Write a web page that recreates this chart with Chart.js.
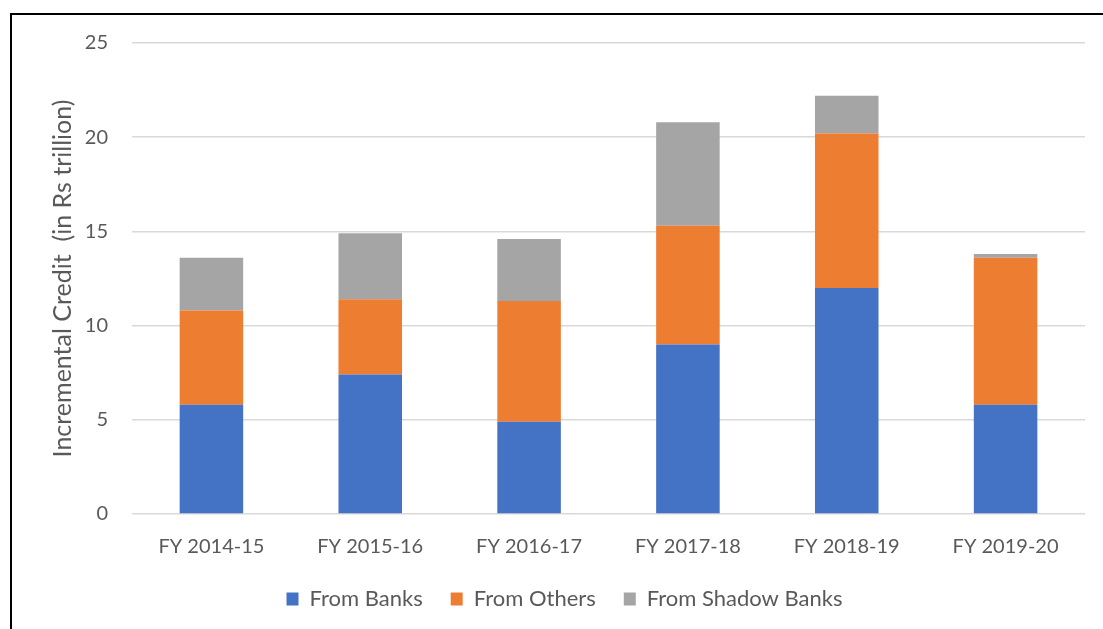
<!DOCTYPE html>
<html>
<head>
<meta charset="utf-8">
<script src="https://cdn.jsdelivr.net/npm/chart.js@4.4.0/dist/chart.umd.min.js"></script>
<style>
  body { margin: 0; background: #fff; overflow: hidden; }
  #frame { position: absolute; left: 10px; top: 13px; width: 1200px; height: 700px; border: 2px solid #000; }
  #wrap { position: absolute; left: 0; top: 0; width: 1103px; height: 629px; }
</style>
</head>
<body>
<div id="frame"></div>
<div id="wrap"><canvas id="myChart"></canvas></div>
<script>
// incremental credit by source, Rs trillion
const years = ["FY 2014-15", "FY 2015-16", "FY 2016-17", "FY 2017-18", "FY 2018-19", "FY 2019-20"];
const fromBanks = [5.8, 7.4, 4.9, 9.0, 12.0, 5.8];
const fromOthers = [5.0, 4.0, 6.4, 6.3, 8.2, 7.8];
const fromShadowBanks = [2.8, 3.5, 3.3, 5.5, 2.0, 0.2];
const yTicks = [0, 5, 10, 15, 20, 25];

const textColor = "#595959";
const fontFamily = "Lato, 'Open Sans', sans-serif";

const printChart = () => {
  const ctx = document.getElementById("myChart").getContext("2d");
  const bar = { barPercentage: 0.4, categoryPercentage: 1, borderWidth: 0 };
  new Chart(ctx, {
    type: "bar",
    data: {
      labels: years,
      datasets: [
        { label: "From Banks", data: fromBanks, backgroundColor: "#4472C4", ...bar },
        { label: "From Others", data: fromOthers, backgroundColor: "#ED7D31", ...bar },
        { label: "From Shadow Banks", data: fromShadowBanks, backgroundColor: "#A5A5A5", ...bar }
      ]
    },
    options: {
      responsive: true,
      maintainAspectRatio: false,
      animation: false,
      layout: { padding: { top: 43, right: 18, left: 44, bottom: 9 } },
      plugins: {
        tooltip: { enabled: false },
        legend: {
          position: "bottom",
          labels: {
            color: textColor,
            font: { family: fontFamily, size: 22 },
            boxWidth: 12,
            boxHeight: 13,
            padding: 28
          }
        }
      },
      scales: {
        x: {
          stacked: true,
          grid: { display: false },
          border: { display: false },
          ticks: { color: textColor, font: { family: fontFamily, size: 20 }, padding: 13 },
          afterFit: scale => { scale.height = 46; }
        },
        y: {
          stacked: true,
          min: 0,
          max: 25,
          afterBuildTicks: scale => { scale.ticks = yTicks.map(v => ({ value: v })); },
          afterFit: scale => { scale.width = 88; },
          grid: { color: "#D9D9D9", lineWidth: 1.5, drawTicks: false },
          border: { display: false },
          ticks: { color: textColor, font: { family: fontFamily, size: 20 }, padding: 24 },
          title: {
            display: true,
            text: "Incremental Credit  (in Rs trillion)",
            color: textColor,
            font: { family: fontFamily, size: 25 },
            padding: { top: 4, bottom: 0 }
          }
        }
      }
    }
  });
};

printChart();
</script>
</body>
</html>
